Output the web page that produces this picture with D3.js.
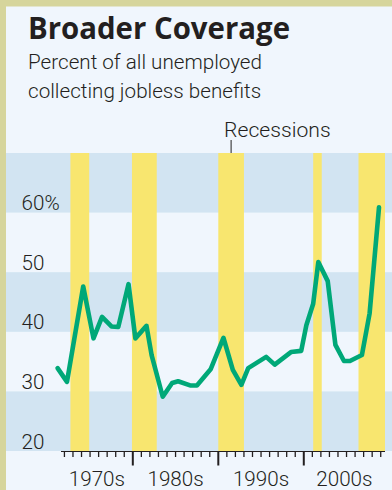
<!DOCTYPE html>
<html>
<head>
<meta charset="utf-8">
<script src="https://cdn.jsdelivr.net/npm/d3@7"></script>
<style>
  html, body { margin: 0; padding: 0; background: #d6d59c; }
  svg { display: block; }
</style>
</head>
<body>
<script>
// ---------- data ----------
const years  = [1971.2, 1972.3, 1974.2, 1975.4, 1976.4, 1977.5, 1978.3, 1979.5, 1980.3, 1981.6,
                1982.2, 1983.5, 1984.6, 1985.3, 1986.7, 1987.5, 1989.1, 1990.6, 1991.7, 1992.7,
                1993.5, 1995.6, 1996.6, 1998.5, 1999.7, 2000.3, 2001.1, 2001.7, 2002.8, 2003.7,
                2004.7, 2005.4, 2006.8, 2007.7, 2008.8];
const shares = [33.9, 31.6, 47.6, 38.9, 42.5, 40.9, 40.8, 48.0, 38.9, 41.0,
                36.1, 29.1, 31.4, 31.7, 31.0, 31.0, 33.7, 39.0, 33.6, 31.1,
                33.9, 35.8, 34.5, 36.6, 36.8, 41.1, 44.7, 51.7, 48.5, 37.8,
                35.1, 35.1, 36.1, 43.1, 60.9];
const recessionStart = [1972.7, 1979.9, 1990.0, 2001.1, 2006.4];
const recessionEnd   = [1974.9, 1982.8, 1993.0, 2002.1, 2009.5];
const yTicks = [20, 30, 40, 50, 60];
const yTickLabels = ["20", "30", "40", "50", "60%"];
const bandLows = [20, 40, 60];
const decades = [1970, 1980, 1990, 2000];
const decadeLabels = ["1970s", "1980s", "1990s", "2000s"];
const majorTicks = [1980, 1990, 2000];
const title = "Broader Coverage";
const subtitle = ["Percent of all unemployed", "collecting jobless benefits"];
const recessionNote = "Recessions";

// ---------- layout ----------
const W = 392, H = 490;
const xDomain = [1971.6, 2009.5];
const yDomain = [20, 70];
const x = d3.scaleLinear().domain(xDomain).range([61, 385]);
const y = d3.scaleLinear().domain(yDomain).range([451, 153]);

const ink = "#231f20";
const lightFont = "Roboto, 'Noto Sans', 'DejaVu Sans', sans-serif";

const svg = d3.select("body").append("svg").attr("width", W).attr("height", H);

// frame + panel
svg.append("rect").attr("x", 0).attr("y", 0).attr("width", W).attr("height", H).attr("fill", "#d6d59c");
svg.append("rect").attr("x", 6).attr("y", 6.5).attr("width", W - 6).attr("height", H - 6.5).attr("fill", "#f0f6fd");

// horizontal bands
svg.append("g").selectAll("rect").data(bandLows).join("rect")
  .attr("x", 6).attr("width", W - 6)
  .attr("y", d => y(d + 10)).attr("height", d => y(d) - y(d + 10))
  .attr("fill", "#d2e4f2");

// recession bars
svg.append("g").selectAll("rect").data(recessionStart).join("rect")
  .attr("x", d => x(d))
  .attr("width", (d, i) => x(recessionEnd[i]) - x(d))
  .attr("y", y(yDomain[1])).attr("height", y(yDomain[0]) - y(yDomain[1]))
  .attr("fill", "#f8e66f");

// title
const tTitle = svg.append("text").attr("x", 28).attr("y", 39)
  .attr("font-family", "'Open Sans', 'Noto Sans', sans-serif").attr("font-weight", 700)
  .attr("font-size", 30.5).attr("fill", ink).text(title);
tTitle.attr("textLength", 262).attr("lengthAdjust", "spacingAndGlyphs");

// subtitle
const sub1 = svg.append("text").attr("x", 28).attr("y", 69)
  .attr("font-family", lightFont).attr("font-weight", 300).attr("font-size", 20.5)
  .attr("fill", ink).text(subtitle[0]);
const natural = sub1.node().getComputedTextLength();
const squeeze = 234 / natural;
sub1.attr("textLength", 234).attr("lengthAdjust", "spacingAndGlyphs");

function lightText(sel) {
  sel.each(function () {
    const n = this.getComputedTextLength();
    d3.select(this).attr("textLength", n * squeeze).attr("lengthAdjust", "spacingAndGlyphs");
  });
}

svg.append("text").attr("x", 28).attr("y", 98)
  .attr("font-family", lightFont).attr("font-weight", 300).attr("font-size", 20.5)
  .attr("fill", ink).text(subtitle[1]).call(lightText);

// recession note + leader
const leadX = x((recessionStart[2] + recessionEnd[2]) / 2);
svg.append("line").attr("x1", leadX).attr("x2", leadX).attr("y1", 140).attr("y2", y(yDomain[1]))
  .attr("stroke", "#444").attr("stroke-width", 1.2);
svg.append("text").attr("x", leadX - 7).attr("y", 136.5)
  .attr("font-family", lightFont).attr("font-weight", 300).attr("font-size", 21)
  .attr("fill", ink).text(recessionNote).call(lightText);

// y labels
svg.append("g").selectAll("text").data(yTicks).join("text")
  .attr("x", 21.5).attr("y", d => y(d) - 2.4)
  .attr("font-family", lightFont).attr("font-weight", 300).attr("font-size", 20.5)
  .attr("fill", ink).text((d, i) => yTickLabels[i]).call(lightText);

// x axis: baseline + ticks
const axisY = y(yDomain[0]);
const xAxis = svg.append("g").attr("transform", `translate(0,${axisY})`);
xAxis.append("line").attr("x1", x(xDomain[0])).attr("x2", x(xDomain[1]))
  .attr("y1", 0.5).attr("y2", 0.5).attr("stroke", ink).attr("stroke-width", 1.2);
const minor = d3.range(Math.ceil(xDomain[0]), Math.floor(xDomain[1]) + 1).filter(v => !majorTicks.includes(v));
xAxis.selectAll("line.minor").data(minor).join("line").attr("class", "minor")
  .attr("x1", d => x(d)).attr("x2", d => x(d)).attr("y1", 0).attr("y2", 6)
  .attr("stroke", ink).attr("stroke-width", 1.3);
xAxis.selectAll("line.major").data(majorTicks).join("line").attr("class", "major")
  .attr("x1", d => x(d)).attr("x2", d => x(d)).attr("y1", 0).attr("y2", 14.5)
  .attr("stroke", ink).attr("stroke-width", 2);

// decade labels centered on visible span
svg.append("g").selectAll("text").data(decades).join("text")
  .attr("x", d => x((Math.max(d, xDomain[0]) + Math.min(d + 10, xDomain[1])) / 2))
  .attr("y", 486).attr("text-anchor", "middle")
  .attr("font-family", lightFont).attr("font-weight", 300).attr("font-size", 20.5)
  .attr("fill", ink).text((d, i) => decadeLabels[i]).call(lightText);

// line
const pts = years.map((yr, i) => [yr, shares[i]]);
svg.append("path").datum(pts)
  .attr("d", d3.line().x(d => x(d[0])).y(d => y(d[1])))
  .attr("fill", "none").attr("stroke", "#00a878").attr("stroke-width", 4.6)
  .attr("stroke-linejoin", "round").attr("stroke-linecap", "round");
</script>
</body>
</html>
